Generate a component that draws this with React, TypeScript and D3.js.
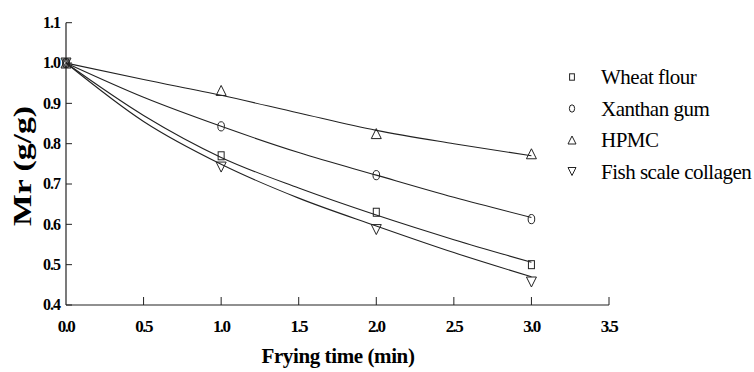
import React from 'react';
import * as d3 from 'd3';

// measured points (frying time in min, Mr in g/g)
const times = [0, 1, 2, 3];
const wheatFlour = [1.0, 0.77, 0.63, 0.5];
const xanthanGum = [1.0, 0.843, 0.722, 0.613];
const hpmc = [1.0, 0.932, 0.825, 0.775];
const fishScaleCollagen = [1.0, 0.742, 0.587, 0.457];

// fitted curves
const fitTimes = [0, 0.5, 1, 1.5, 2, 2.5, 3];
const wheatFit = [1.0, 0.87, 0.766, 0.69, 0.623, 0.562, 0.506];
const xanthanFit = [1.0, 0.915, 0.843, 0.778, 0.722, 0.667, 0.617];
const hpmcFit = [1.0, 0.959, 0.92, 0.876, 0.833, 0.8, 0.77];
const fishFit = [1.0, 0.855, 0.749, 0.665, 0.596, 0.53, 0.47];

const seriesNames = ['Wheat flour', 'Xanthan gum', 'HPMC', 'Fish scale collagen'];
const markerKinds = ['square', 'circle', 'up', 'down'];

const xTicks = [0, 0.5, 1, 1.5, 2, 2.5, 3, 3.5];
const yTicks = [0.4, 0.5, 0.6, 0.7, 0.8, 0.9, 1.0, 1.1];

const W = 754;
const H = 372;
const serif = '"Liberation Serif", "Times New Roman", "DejaVu Serif", serif';
const ink = '#222';

const x = d3.scaleLinear().domain([0, 3.5]).range([66, 609]);
const y = d3.scaleLinear().domain([0.4, 1.1]).range([305, 22.7]);

// marker outline centered at (cx, cy)
function marker(kind: string, cx: number, cy: number, s: number) {
  if (kind === 'square') {
    const w = 3 * s, h = 4 * s;
    return <rect x={cx - w} y={cy - h} width={2 * w} height={2 * h} fill="none" stroke={ink} strokeWidth={1} />;
  }
  if (kind === 'circle') {
    return <ellipse cx={cx} cy={cy} rx={3.3 * s} ry={4.6 * s} fill="none" stroke={ink} strokeWidth={1} />;
  }
  const w = 5 * s, h = 5 * s;
  const d = kind === 'up'
    ? `M${cx},${cy - h}L${cx + w},${cy + h}L${cx - w},${cy + h}Z`
    : `M${cx - w},${cy - h}L${cx + w},${cy - h}L${cx},${cy + h}Z`;
  return <path d={d} fill="none" stroke={ink} strokeWidth={1} />;
}

export default function App() {
  const points = [wheatFlour, xanthanGum, hpmc, fishScaleCollagen];
  const fits = [wheatFit, xanthanFit, hpmcFit, fishFit];

  const line = d3.line<number>()
    .x((_, i) => x(fitTimes[i]))
    .y(d => y(d))
    .curve(d3.curveMonotoneX);

  return (
    <svg width={W} height={H} style={{ position: 'absolute', left: 0, top: 0, background: '#fff' }}
      fontFamily={serif}>
      {/* axes */}
      <line x1={x(0)} x2={x(0)} y1={y(1.1)} y2={y(0.4)} stroke={ink} strokeWidth={1.2} />
      <line x1={x(0)} x2={x(3.5)} y1={y(0.4)} y2={y(0.4)} stroke={ink} strokeWidth={1.2} />
      {yTicks.map(t => (
        <g key={'y' + t}>
          <line x1={x(0)} x2={x(0) + 6} y1={y(t)} y2={y(t)} stroke={ink} strokeWidth={1} />
          <text x={60} y={y(t)} dy="0.34em" textAnchor="end" fontSize={16} fontWeight="bold"
            letterSpacing={-1}>{t.toFixed(1)}</text>
        </g>
      ))}
      {xTicks.map(t => (
        <g key={'x' + t}>
          {t > 0 && <line x1={x(t)} x2={x(t)} y1={y(0.4)} y2={y(0.4) - 8} stroke={ink} strokeWidth={1} />}
          <text x={x(t)} y={332} textAnchor="middle" fontSize={17} fontWeight="bold"
            letterSpacing={-1.6}>{t.toFixed(1)}</text>
        </g>
      ))}
      <text x={338} y={363} textAnchor="middle" fontSize={21} fontWeight="bold"
        letterSpacing={-0.4}>Frying time (min)</text>
      <text transform="translate(31,166) rotate(-90)" textAnchor="middle" fontSize={26}
        fontWeight="bold" textLength={120} lengthAdjust="spacingAndGlyphs">Mr (g/g)</text>

      {/* fitted curves */}
      {fits.map((f, i) => (
        <path key={'f' + i} d={line(f) ?? ''} fill="none" stroke={ink} strokeWidth={1.1} />
      ))}

      {/* measured points */}
      {points.map((p, i) => (
        <g key={'p' + i}>
          {p.map((v, j) => (
            <g key={j}>{marker(markerKinds[i], x(times[j]), y(v), 1)}</g>
          ))}
        </g>
      ))}

      {/* legend */}
      {seriesNames.map((name, i) => {
        const cy = 77 + i * 31.5;
        return (
          <g key={name}>
            {marker(markerKinds[i], 572, cy, 0.8)}
            <text x={601} y={cy} dy="0.35em" fontSize={21} letterSpacing={-0.5}>{name}</text>
          </g>
        );
      })}
    </svg>
  );
}
